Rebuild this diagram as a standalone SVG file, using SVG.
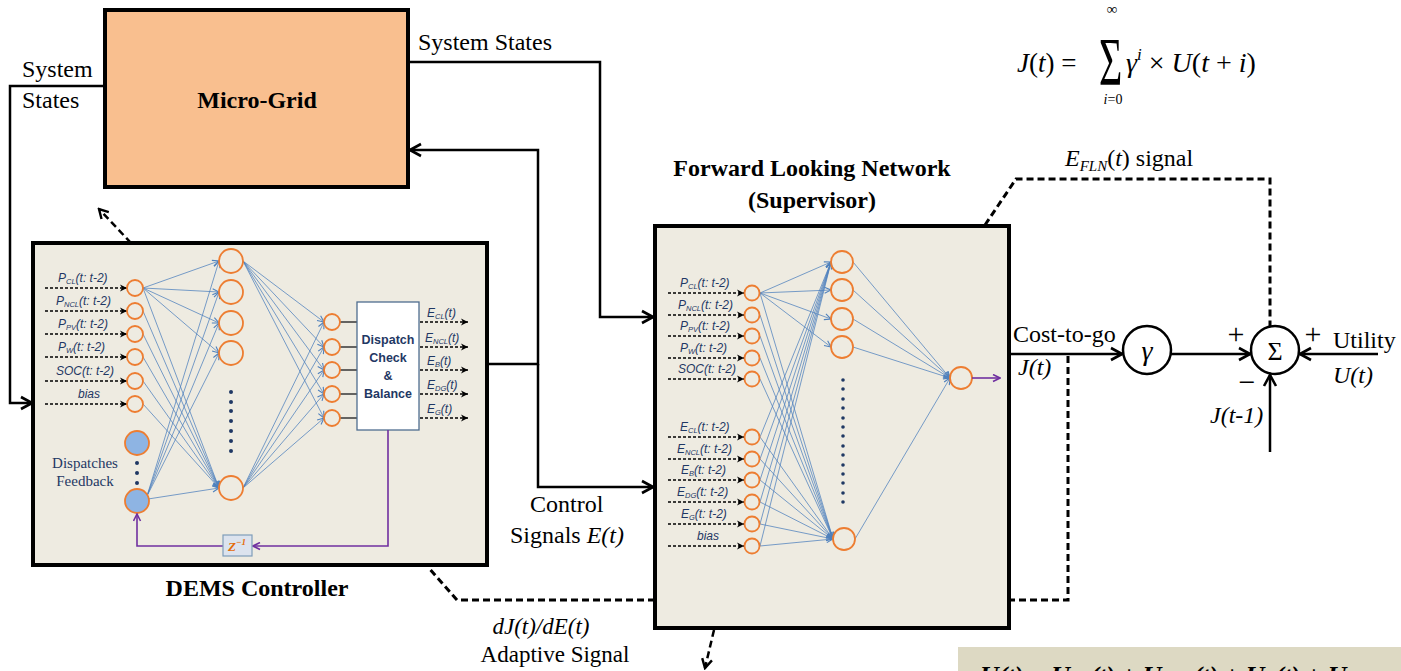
<svg xmlns="http://www.w3.org/2000/svg" width="1401" height="671" viewBox="0 0 1401 671">
  <style>
    .serif { font-family: "Liberation Serif", "DejaVu Serif", serif; fill: #000; }
    .lbl { font-size: 24px; }
    .ital { font-style: italic; }
    .bold { font-weight: bold; }
    .netlbl { font-family: "Liberation Sans", Arial, sans-serif; font-style: italic; font-size: 12px; fill: #1F3864; }
    .frame { fill: #EEEBE1; stroke: #000; stroke-width: 4; }
    .node { fill: none; stroke: #ED7D31; stroke-width: 1.8; }
    .fb { fill: #8EB4E3; stroke: #ED7D31; stroke-width: 1.8; }
    .dot { fill: #1F3864; }
    .link { stroke: #4F81BD; stroke-width: 0.9; stroke-opacity: 0.85; fill: none; marker-end: url(#arrBlue); }
    .wire-a { stroke: #000; stroke-width: 2.5; fill: none; marker-end: url(#arrOpen); }
    .dash { stroke: #000; stroke-width: 3; fill: none; stroke-dasharray: 7 4; }
    .dash-a { stroke: #000; stroke-width: 2.5; fill: none; stroke-dasharray: 7 4; marker-end: url(#arrOpenSm); }
    .inarr { stroke: #000; stroke-width: 1.6; stroke-dasharray: 3 2; fill: none; marker-end: url(#arrDash); }
    .purple { stroke: #7030A0; stroke-width: 1.6; fill: none; marker-end: url(#arrPurple); }
    .stub { stroke: #404040; stroke-width: 1.6; }
  </style>
  <defs>
    <marker id="arrOpen" markerUnits="userSpaceOnUse" markerWidth="16" markerHeight="16" viewBox="0 0 16 16" refX="14" refY="8" orient="auto">
      <path d="M3,2 L14,8 L3,14" fill="none" stroke="#000" stroke-width="2.6"/>
    </marker>
    <marker id="arrOpenSm" markerUnits="userSpaceOnUse" markerWidth="14" markerHeight="14" viewBox="0 0 14 14" refX="12" refY="7" orient="auto">
      <path d="M3,2 L12,7 L3,12" fill="none" stroke="#000" stroke-width="2.4"/>
    </marker>
    <marker id="arrDash" markerUnits="userSpaceOnUse" markerWidth="9" markerHeight="9" viewBox="0 0 9 9" refX="8" refY="4.5" orient="auto">
      <path d="M1,1 L8,4.5 L1,8 L3,4.5 Z" fill="#000"/>
    </marker>
    <marker id="arrBlue" markerUnits="userSpaceOnUse" markerWidth="8" markerHeight="8" viewBox="0 0 8 8" refX="7.5" refY="4" orient="auto">
      <path d="M1,1 L7.5,4 L1,7" fill="none" stroke="#4F81BD" stroke-width="1.1"/>
    </marker>
    <marker id="arrPurple" markerUnits="userSpaceOnUse" markerWidth="9" markerHeight="9" viewBox="0 0 9 9" refX="8" refY="4.5" orient="auto">
      <path d="M1,1 L8,4.5 L1,8" fill="none" stroke="#7030A0" stroke-width="1.6"/>
    </marker>
  </defs>

  <rect x="0" y="0" width="1401" height="671" fill="#fff"/>

  <!-- Micro-Grid plant -->
  <g id="microgrid">
    <rect x="105" y="10" width="303" height="177" fill="#F9BF8F" stroke="#000" stroke-width="4"/>
    <text class="serif lbl bold" x="257" y="108" text-anchor="middle">Micro-Grid</text>
  </g>

  <!-- DEMS controller network -->
  <g id="dems">
    <rect class="frame" x="33" y="243" width="454" height="322"/>
    <text class="serif lbl bold" x="257" y="596" text-anchor="middle">DEMS Controller</text>

    <!-- input arrows and labels -->
    <g id="dems-inputs">
      <line class="inarr" x1="45" y1="288" x2="127" y2="288"/>
      <line class="inarr" x1="45" y1="311" x2="127" y2="311"/>
      <line class="inarr" x1="45" y1="334" x2="127" y2="334"/>
      <line class="inarr" x1="45" y1="357" x2="127" y2="357"/>
      <line class="inarr" x1="45" y1="381" x2="127" y2="381"/>
      <line class="inarr" x1="45" y1="404" x2="127" y2="404"/>
      <text class="netlbl" x="58" y="282">P<tspan font-size="7.5" dy="2">CL</tspan><tspan dy="-2">(t: t-2)</tspan></text>
      <text class="netlbl" x="56" y="305">P<tspan font-size="7.5" dy="2">NCL</tspan><tspan dy="-2">(t: t-2)</tspan></text>
      <text class="netlbl" x="58" y="328">P<tspan font-size="7.5" dy="2">PV</tspan><tspan dy="-2">(t: t-2)</tspan></text>
      <text class="netlbl" x="58" y="351">P<tspan font-size="7.5" dy="2">W</tspan><tspan dy="-2">(t: t-2)</tspan></text>
      <text class="netlbl" x="56" y="375">SOC(t: t-2)</text>
      <text class="netlbl" x="78" y="398">bias</text>
    </g>

    <!-- links -->
    <g id="dems-links">
      <line class="link" x1="143" y1="288" x2="219" y2="261"/>
      <line class="link" x1="143" y1="288" x2="219" y2="292"/>
      <line class="link" x1="143" y1="288" x2="219" y2="323"/>
      <line class="link" x1="143" y1="288" x2="219" y2="353"/>
      <line class="link" x1="143" y1="288" x2="219" y2="488"/>
      <line class="link" x1="143" y1="311" x2="219" y2="488"/>
      <line class="link" x1="143" y1="334" x2="219" y2="488"/>
      <line class="link" x1="143" y1="357" x2="219" y2="488"/>
      <line class="link" x1="143" y1="381" x2="219" y2="488"/>
      <line class="link" x1="143" y1="404" x2="219" y2="488"/>
      <line class="link" x1="147" y1="496" x2="219" y2="261"/>
      <line class="link" x1="147" y1="496" x2="219" y2="292"/>
      <line class="link" x1="147" y1="496" x2="219" y2="323"/>
      <line class="link" x1="147" y1="496" x2="219" y2="353"/>
      <line class="link" x1="148" y1="499" x2="219" y2="488"/>
      <line class="link" x1="243" y1="261" x2="324" y2="322"/>
      <line class="link" x1="243" y1="261" x2="324" y2="347"/>
      <line class="link" x1="243" y1="261" x2="324" y2="370"/>
      <line class="link" x1="243" y1="261" x2="324" y2="394"/>
      <line class="link" x1="243" y1="261" x2="324" y2="418"/>
      <line class="link" x1="243" y1="488" x2="324" y2="322"/>
      <line class="link" x1="243" y1="488" x2="324" y2="347"/>
      <line class="link" x1="243" y1="488" x2="324" y2="370"/>
      <line class="link" x1="243" y1="488" x2="324" y2="394"/>
      <line class="link" x1="243" y1="488" x2="324" y2="418"/>
    </g>

    <!-- input layer -->
    <circle class="node" cx="135" cy="288" r="8"/>
    <circle class="node" cx="135" cy="311" r="8"/>
    <circle class="node" cx="135" cy="334" r="8"/>
    <circle class="node" cx="135" cy="357" r="8"/>
    <circle class="node" cx="135" cy="381" r="8"/>
    <circle class="node" cx="135" cy="404" r="8"/>
    <circle class="fb" cx="137" cy="443" r="12"/>
    <circle class="fb" cx="137" cy="501" r="12"/>
    <circle class="dot" cx="137" cy="463" r="2"/>
    <circle class="dot" cx="137" cy="473" r="2"/>
    <circle class="dot" cx="137" cy="483" r="2"/>
    <text class="serif" x="85" y="468" font-size="15" text-anchor="middle" style="fill:#1F3864">Dispatches</text>
    <text class="serif" x="85" y="486" font-size="15" text-anchor="middle" style="fill:#1F3864">Feedback</text>

    <!-- hidden layer -->
    <circle class="node" cx="231" cy="261" r="12"/>
    <circle class="node" cx="231" cy="292" r="12"/>
    <circle class="node" cx="231" cy="323" r="12"/>
    <circle class="node" cx="231" cy="353" r="12"/>
    <circle class="node" cx="231" cy="488" r="12"/>
    <circle class="dot" cx="231" cy="392" r="2"/>
    <circle class="dot" cx="231" cy="402" r="2"/>
    <circle class="dot" cx="231" cy="411" r="2"/>
    <circle class="dot" cx="231" cy="421" r="2"/>
    <circle class="dot" cx="231" cy="431" r="2"/>
    <circle class="dot" cx="231" cy="441" r="2"/>
    <circle class="dot" cx="231" cy="451" r="2"/>

    <!-- output layer -->
    <line class="stub" x1="340" y1="322" x2="357" y2="322"/>
    <line class="stub" x1="340" y1="347" x2="357" y2="347"/>
    <line class="stub" x1="340" y1="370" x2="357" y2="370"/>
    <line class="stub" x1="340" y1="394" x2="357" y2="394"/>
    <line class="stub" x1="340" y1="418" x2="357" y2="418"/>
    <circle class="node" cx="332" cy="322" r="8"/>
    <circle class="node" cx="332" cy="347" r="8"/>
    <circle class="node" cx="332" cy="370" r="8"/>
    <circle class="node" cx="332" cy="394" r="8"/>
    <circle class="node" cx="332" cy="418" r="8"/>

    <!-- dispatch check block -->
    <rect x="357" y="302" width="62" height="128" fill="#fff" stroke="#4F6D8F" stroke-width="1.3"/>
    <g font-family="'Liberation Sans', Arial, sans-serif" font-weight="bold" font-size="12.5" fill="#1F3864" text-anchor="middle">
      <text x="388" y="344">Dispatch</text>
      <text x="388" y="362">Check</text>
      <text x="388" y="380">&amp;</text>
      <text x="388" y="398">Balance</text>
    </g>

    <!-- dispatch outputs -->
    <line class="inarr" x1="420" y1="322" x2="468" y2="322"/>
    <line class="inarr" x1="420" y1="347" x2="468" y2="347"/>
    <line class="inarr" x1="420" y1="370" x2="468" y2="370"/>
    <line class="inarr" x1="420" y1="394" x2="468" y2="394"/>
    <line class="inarr" x1="420" y1="418" x2="468" y2="418"/>
    <text class="netlbl" x="427" y="317">E<tspan font-size="7.5" dy="2">CL</tspan><tspan dy="-2">(t)</tspan></text>
    <text class="netlbl" x="425" y="342">E<tspan font-size="7.5" dy="2">NCL</tspan><tspan dy="-2">(t)</tspan></text>
    <text class="netlbl" x="427" y="365">E<tspan font-size="7.5" dy="2">B</tspan><tspan dy="-2">(t)</tspan></text>
    <text class="netlbl" x="427" y="389">E<tspan font-size="7.5" dy="2">DG</tspan><tspan dy="-2">(t)</tspan></text>
    <text class="netlbl" x="427" y="413">E<tspan font-size="7.5" dy="2">G</tspan><tspan dy="-2">(t)</tspan></text>

    <!-- unit delay feedback -->
    <path class="purple" d="M388,430 V546 H253"/>
    <path class="purple" d="M223,546 H137 V514"/>
    <rect x="223" y="535" width="29" height="21" fill="#DCE3EE" stroke="#7F9DB9" stroke-width="1.2"/>
    <text class="serif ital bold" x="228" y="551" font-size="13" style="fill:#E46C0A">Z<tspan font-size="9" dy="-6">−1</tspan></text>
  </g>

  <!-- Forward Looking Network (supervisor) -->
  <g id="fln">
    <text class="serif lbl bold" x="812" y="176" text-anchor="middle">Forward Looking Network</text>
    <text class="serif lbl bold" x="812" y="208" text-anchor="middle">(Supervisor)</text>
    <rect class="frame" x="655" y="226" width="354" height="402"/>

    <g id="fln-inputs">
      <line class="inarr" x1="668" y1="293" x2="744" y2="293"/>
      <line class="inarr" x1="668" y1="315" x2="744" y2="315"/>
      <line class="inarr" x1="668" y1="336" x2="744" y2="336"/>
      <line class="inarr" x1="668" y1="358" x2="744" y2="358"/>
      <line class="inarr" x1="668" y1="379" x2="744" y2="379"/>
      <line class="inarr" x1="668" y1="437" x2="744" y2="437"/>
      <line class="inarr" x1="668" y1="459" x2="744" y2="459"/>
      <line class="inarr" x1="668" y1="480" x2="744" y2="480"/>
      <line class="inarr" x1="668" y1="502" x2="744" y2="502"/>
      <line class="inarr" x1="668" y1="524" x2="744" y2="524"/>
      <line class="inarr" x1="668" y1="546" x2="744" y2="546"/>
      <text class="netlbl" x="680" y="287">P<tspan font-size="7.5" dy="2">CL</tspan><tspan dy="-2">(t: t-2)</tspan></text>
      <text class="netlbl" x="678" y="309">P<tspan font-size="7.5" dy="2">NCL</tspan><tspan dy="-2">(t: t-2)</tspan></text>
      <text class="netlbl" x="680" y="330">P<tspan font-size="7.5" dy="2">PV</tspan><tspan dy="-2">(t: t-2)</tspan></text>
      <text class="netlbl" x="680" y="352">P<tspan font-size="7.5" dy="2">W</tspan><tspan dy="-2">(t: t-2)</tspan></text>
      <text class="netlbl" x="678" y="373">SOC(t: t-2)</text>
      <text class="netlbl" x="680" y="431">E<tspan font-size="7.5" dy="2">CL</tspan><tspan dy="-2">(t: t-2)</tspan></text>
      <text class="netlbl" x="677" y="453">E<tspan font-size="7.5" dy="2">NCL</tspan><tspan dy="-2">(t: t-2)</tspan></text>
      <text class="netlbl" x="681" y="474">E<tspan font-size="7.5" dy="2">B</tspan><tspan dy="-2">(t: t-2)</tspan></text>
      <text class="netlbl" x="677" y="496">E<tspan font-size="7.5" dy="2">DG</tspan><tspan dy="-2">(t: t-2)</tspan></text>
      <text class="netlbl" x="681" y="518">E<tspan font-size="7.5" dy="2">G</tspan><tspan dy="-2">(t: t-2)</tspan></text>
      <text class="netlbl" x="697" y="540">bias</text>
    </g>

    <g id="fln-links">
      <line class="link" x1="760" y1="293" x2="831" y2="262"/>
      <line class="link" x1="760" y1="293" x2="831" y2="290"/>
      <line class="link" x1="760" y1="293" x2="831" y2="319"/>
      <line class="link" x1="760" y1="293" x2="831" y2="347"/>
      <line class="link" x1="760" y1="293" x2="833" y2="539"/>
      <line class="link" x1="760" y1="315" x2="833" y2="539"/>
      <line class="link" x1="760" y1="336" x2="833" y2="539"/>
      <line class="link" x1="760" y1="358" x2="833" y2="539"/>
      <line class="link" x1="760" y1="379" x2="833" y2="539"/>
      <line class="link" x1="760" y1="437" x2="831" y2="262"/>
      <line class="link" x1="760" y1="459" x2="831" y2="262"/>
      <line class="link" x1="760" y1="480" x2="831" y2="262"/>
      <line class="link" x1="760" y1="502" x2="831" y2="262"/>
      <line class="link" x1="760" y1="524" x2="831" y2="262"/>
      <line class="link" x1="760" y1="546" x2="831" y2="262"/>
      <line class="link" x1="760" y1="437" x2="833" y2="539"/>
      <line class="link" x1="760" y1="459" x2="833" y2="539"/>
      <line class="link" x1="760" y1="480" x2="833" y2="539"/>
      <line class="link" x1="760" y1="502" x2="833" y2="539"/>
      <line class="link" x1="760" y1="524" x2="833" y2="539"/>
      <line class="link" x1="760" y1="546" x2="833" y2="539"/>
      <line class="link" x1="853" y1="262" x2="950" y2="378"/>
      <line class="link" x1="853" y1="290" x2="950" y2="378"/>
      <line class="link" x1="853" y1="319" x2="950" y2="378"/>
      <line class="link" x1="853" y1="347" x2="950" y2="378"/>
      <line class="link" x1="855" y1="539" x2="950" y2="378"/>
    </g>

    <circle class="node" cx="752" cy="293" r="7.5"/>
    <circle class="node" cx="752" cy="315" r="7.5"/>
    <circle class="node" cx="752" cy="336" r="7.5"/>
    <circle class="node" cx="752" cy="358" r="7.5"/>
    <circle class="node" cx="752" cy="379" r="7.5"/>
    <circle class="node" cx="752" cy="437" r="7.5"/>
    <circle class="node" cx="752" cy="459" r="7.5"/>
    <circle class="node" cx="752" cy="480" r="7.5"/>
    <circle class="node" cx="752" cy="502" r="7.5"/>
    <circle class="node" cx="752" cy="524" r="7.5"/>
    <circle class="node" cx="752" cy="546" r="7.5"/>

    <circle class="node" cx="842" cy="262" r="11"/>
    <circle class="node" cx="842" cy="290" r="11"/>
    <circle class="node" cx="842" cy="319" r="11"/>
    <circle class="node" cx="842" cy="347" r="11"/>
    <circle class="node" cx="844" cy="539" r="11"/>
    <g class="dot">
      <circle cx="843" cy="380" r="1.8"/><circle cx="843" cy="389" r="1.8"/>
      <circle cx="843" cy="399" r="1.8"/><circle cx="843" cy="408" r="1.8"/>
      <circle cx="843" cy="418" r="1.8"/><circle cx="843" cy="427" r="1.8"/>
      <circle cx="843" cy="436" r="1.8"/><circle cx="843" cy="446" r="1.8"/>
      <circle cx="843" cy="455" r="1.8"/><circle cx="843" cy="465" r="1.8"/>
      <circle cx="843" cy="474" r="1.8"/><circle cx="843" cy="483" r="1.8"/>
      <circle cx="843" cy="493" r="1.8"/><circle cx="843" cy="502" r="1.8"/>
    </g>

    <circle class="node" cx="961" cy="378" r="11"/>
    <line class="purple" x1="972" y1="378" x2="1000" y2="378"/>
  </g>

  <!-- discount and summing blocks -->
  <g id="gamma">
    <circle cx="1147" cy="350" r="24" fill="#fff" stroke="#000" stroke-width="2.5"/>
    <text class="serif ital" x="1147" y="360" font-size="28" text-anchor="middle">γ</text>
  </g>
  <g id="sum">
    <circle cx="1275" cy="350" r="24" fill="#fff" stroke="#000" stroke-width="2.5"/>
    <text class="serif" x="1275" y="360" font-size="26" text-anchor="middle">Σ</text>
    <text class="serif" x="1236" y="344" font-size="30" text-anchor="middle">+</text>
    <text class="serif" x="1313" y="344" font-size="30" text-anchor="middle">+</text>
    <text class="serif" x="1247" y="392" font-size="30" text-anchor="middle">−</text>
  </g>

  <!-- connectors -->
  <g id="connectors">
    <path class="wire-a" d="M105,86 H10 V403 H32"/>
    <text class="serif lbl" x="22" y="77">System</text>
    <text class="serif lbl" x="22" y="108">States</text>

    <path class="wire-a" d="M408,62 H600 V317 H653"/>
    <text class="serif lbl" x="418" y="50">System States</text>

    <path class="wire-a" d="M487,364 H538 V150 H410"/>
    <path class="wire-a" d="M538,364 V487 H653"/>
    <text class="serif lbl" x="530" y="512">Control</text>
    <text class="serif lbl" x="510" y="543">Signals <tspan class="ital">E(t)</tspan></text>

    <path class="wire-a" d="M1011,354 H1122"/>
    <text class="serif lbl" x="1013" y="342">Cost-to-go</text>
    <text class="serif lbl ital" x="1018" y="375">J(t)</text>

    <path class="wire-a" d="M1171,354 H1250"/>
    <path class="wire-a" d="M1378,354 H1300"/>
    <text class="serif lbl" x="1333" y="348">Utility</text>
    <text class="serif lbl ital" x="1333" y="383">U(t)</text>
    <path class="wire-a" d="M1270,452 V375"/>
    <text class="serif lbl ital" x="1210" y="423">J(t-1)</text>

    <path class="dash" d="M985,225 L1016,179 H1270 V326"/>
    <text class="serif lbl" x="1065" y="166"><tspan class="ital">E</tspan><tspan class="ital" font-size="15" dy="5">FLN</tspan><tspan dy="-5">(</tspan><tspan class="ital">t</tspan>) signal</text>

    <path class="dash" d="M1068,356 V600 H1011"/>
    <path class="dash" d="M655,600 H457 L428,567"/>
    <text class="serif ital" x="541" y="634" font-size="23" text-anchor="middle">dJ(t)/dE(t)</text>
    <text class="serif" x="555" y="662" font-size="23" text-anchor="middle">Adaptive Signal</text>

    <path class="dash-a" d="M131,243 L99,209"/>
    <path class="dash-a" d="M714,630 L705,668"/>
  </g>

  <!-- return-to-go definition -->
  <g id="formula" class="serif">
    <text x="1017" y="72" font-size="27"><tspan class="ital">J</tspan>(<tspan class="ital">t</tspan>) =</text>
    <text transform="translate(1099,84) scale(1,1.7)" font-size="40">Σ</text>
    <text x="1112" y="14" font-size="15" text-anchor="middle">∞</text>
    <text x="1113" y="104" font-size="14" text-anchor="middle"><tspan class="ital">i</tspan>=0</text>
    <text x="1126" y="72" font-size="28"><tspan class="ital">γ</tspan><tspan class="ital" font-size="17" dy="-12">i</tspan><tspan dy="12"> × </tspan><tspan class="ital">U</tspan>(<tspan class="ital">t</tspan> + <tspan class="ital">i</tspan>)</text>
  </g>

  <!-- utility breakdown -->
  <g id="utility-box">
    <rect x="958" y="647" width="443" height="30" fill="#DDD9C3"/>
    <text class="serif ital bold" x="980" y="684" font-size="26">U(t) = U<tspan font-size="16" dy="4">CL</tspan><tspan dy="-4">(t) + U</tspan><tspan font-size="16" dy="4">NCL</tspan><tspan dy="-4">(t) + U</tspan><tspan font-size="16" dy="4">B</tspan><tspan dy="-4">(t) + U</tspan></text>
  </g>
</svg>
